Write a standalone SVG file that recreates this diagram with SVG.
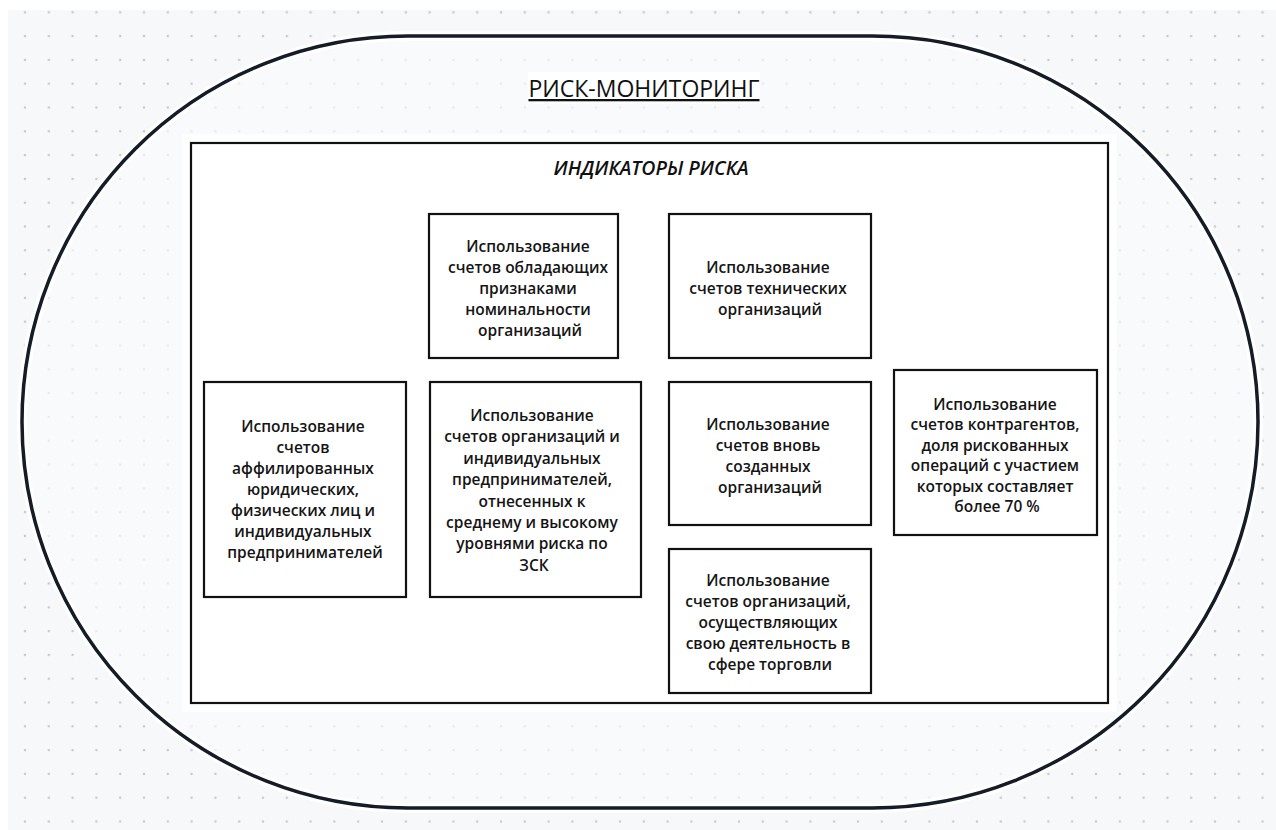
<svg xmlns="http://www.w3.org/2000/svg" width="1276" height="830" viewBox="0 0 1276 830">
  <defs>
    <pattern id="dots" x="13.1" y="0.4" width="23.8" height="23.8" patternUnits="userSpaceOnUse">
      <circle cx="11.9" cy="11.9" r="1.3" fill="#c9cacf"/>
    </pattern>
    <style>
      .lbl { font-family: "Open Sans", "Liberation Sans", sans-serif; font-size: 15.5px; font-weight: 600; fill: #151515; text-anchor: middle; }
      .box { fill: #fff; stroke: #111; stroke-width: 2.2; }
    </style>
  </defs>

  <!-- canvas -->
  <rect x="0" y="0" width="1276" height="830" fill="#fff"/>
  <rect x="8" y="10" width="1268" height="820" fill="#f7f8fa"/>
  <rect x="8" y="10" width="1268" height="820" fill="url(#dots)"/>

  <!-- outer stadium -->
  <g id="risk-monitoring">
    <rect x="22" y="36" width="1236" height="772" rx="386" ry="386" fill="#fbfbfc" fill-opacity="0.65" stroke="#fff" stroke-width="10"/>
    <rect x="22" y="36" width="1236" height="772" rx="386" ry="386" fill="none" stroke="#141c28" stroke-width="3.5"/>
    <rect x="528" y="72" width="232" height="32" fill="#fff" opacity="0.85"/>
    <text x="644" y="97" font-family="'Open Sans', 'Liberation Sans', sans-serif" font-size="23" font-weight="500" fill="#111" text-anchor="middle" text-decoration="underline">РИСК-МОНИТОРИНГ</text>
  </g>

  <!-- risk indicators frame -->
  <g id="risk-indicators">
    <rect x="191" y="143" width="917" height="560" fill="#fff" stroke="#fff" stroke-width="18" stroke-opacity="0.8"/>
    <rect x="191" y="143" width="917" height="560" fill="#fff" stroke="#111" stroke-width="2.2"/>
    <text x="651" y="175" font-family="'Open Sans', 'Liberation Sans', sans-serif" font-size="19.5" font-weight="600" font-style="italic" fill="#111" text-anchor="middle">ИНДИКАТОРЫ РИСКА</text>
  </g>

  <g id="node-nominal">
    <rect class="box" x="429" y="214" width="189" height="144"/>
    <text class="lbl" y="251.5">
      <tspan x="530">Использование</tspan>
      <tspan x="530" dy="21">счетов обладающих</tspan>
      <tspan x="530" dy="21">признаками</tspan>
      <tspan x="530" dy="21">номинальности</tspan>
      <tspan x="530" dy="21">организаций</tspan>
    </text>
  </g>

  <g id="node-technical">
    <rect class="box" x="669" y="214" width="202" height="144"/>
    <text class="lbl" y="272.5">
      <tspan x="770">Использование</tspan>
      <tspan x="770" dy="21">счетов технических</tspan>
      <tspan x="770" dy="21">организаций</tspan>
    </text>
  </g>

  <g id="node-affiliated">
    <rect class="box" x="204" y="382" width="202" height="215"/>
    <text class="lbl" y="431.5">
      <tspan x="305">Использование</tspan>
      <tspan x="305" dy="21">счетов</tspan>
      <tspan x="305" dy="21">аффилированных</tspan>
      <tspan x="305" dy="21">юридических,</tspan>
      <tspan x="305" dy="21">физических лиц и</tspan>
      <tspan x="305" dy="21">индивидуальных</tspan>
      <tspan x="305" dy="21">предпринимателей</tspan>
    </text>
  </g>

  <g id="node-zsk">
    <rect class="box" x="430" y="382" width="211" height="215"/>
    <text class="lbl" y="421">
      <tspan x="534">Использование</tspan>
      <tspan x="534" dy="21.4">счетов организаций и</tspan>
      <tspan x="534" dy="21.4">индивидуальных</tspan>
      <tspan x="534" dy="21.4">предпринимателей,</tspan>
      <tspan x="534" dy="21.4">отнесенных к</tspan>
      <tspan x="534" dy="21.4">среднему и высокому</tspan>
      <tspan x="534" dy="21.4">уровнями риска по</tspan>
      <tspan x="534" dy="21.4">ЗСК</tspan>
    </text>
  </g>

  <g id="node-new">
    <rect class="box" x="669" y="382" width="202" height="143"/>
    <text class="lbl" y="430">
      <tspan x="770">Использование</tspan>
      <tspan x="770" dy="21">счетов вновь</tspan>
      <tspan x="770" dy="21">созданных</tspan>
      <tspan x="770" dy="21">организаций</tspan>
    </text>
  </g>

  <g id="node-trade">
    <rect class="box" x="669" y="549" width="202" height="144"/>
    <text class="lbl" y="585.5">
      <tspan x="770">Использование</tspan>
      <tspan x="770" dy="21">счетов организаций,</tspan>
      <tspan x="770" dy="21">осуществляющих</tspan>
      <tspan x="770" dy="21">свою деятельность в</tspan>
      <tspan x="770" dy="21">сфере торговли</tspan>
    </text>
  </g>

  <g id="node-counterparties">
    <rect class="box" x="894" y="370" width="203" height="165"/>
    <text class="lbl" y="410">
      <tspan x="997">Использование</tspan>
      <tspan x="997" dy="20.4">счетов контрагентов,</tspan>
      <tspan x="997" dy="20.4">доля рискованных</tspan>
      <tspan x="997" dy="20.4">операций с участием</tspan>
      <tspan x="997" dy="20.4">которых составляет</tspan>
      <tspan x="997" dy="20.4">более 70 %</tspan>
    </text>
  </g>

  <g id="connectors"/>
</svg>
